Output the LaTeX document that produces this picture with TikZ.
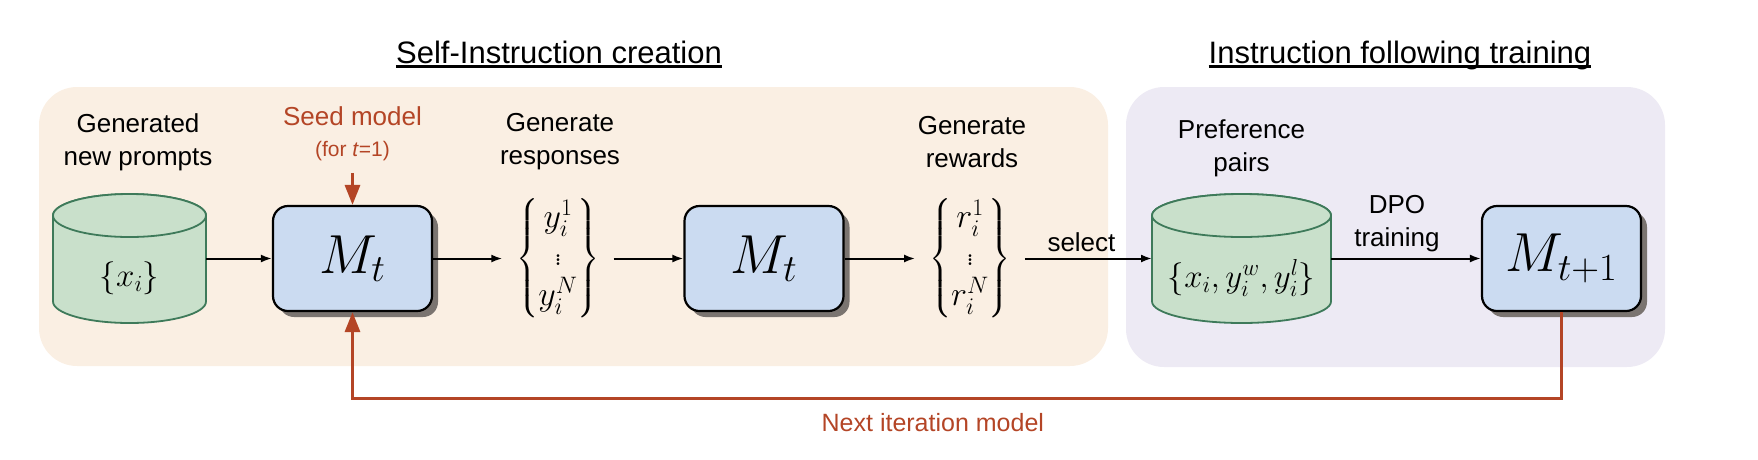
\documentclass[tikz,border=0pt]{standalone}
\usepackage{fix-cm}
\usepackage{amsmath}
\usepackage{fontspec}
\setsansfont{Liberation Sans}
\usetikzlibrary{arrows.meta,shadows}
\definecolor{tanbg}{HTML}{FAEFE3}
\definecolor{lilacbg}{HTML}{EDEAF4}
\definecolor{dbfill}{HTML}{C9E0CB}
\definecolor{dbline}{HTML}{3E7A5A}
\definecolor{modelfill}{HTML}{CBDBF1}
\definecolor{shadowgray}{HTML}{7A7470}
\definecolor{loopred}{HTML}{B44526}

\begin{document}
\begin{tikzpicture}[x=1pt, y=-1pt,
    flow/.style={-{Latex[length=11pt,width=8pt]}, line width=2pt},
    redflow/.style={-{Triangle[length=20pt,width=15pt]}, line width=3.2pt, draw=loopred},
    model/.style={draw=black, line width=2.2pt, fill=modelfill, rounded corners=15pt,
        minimum width=159pt, minimum height=105pt, inner sep=0pt,
        drop shadow={shadow xshift=6pt, shadow yshift=-6pt, fill=shadowgray, opacity=1},
        font=\fontsize{55}{64}\selectfont},
    caption/.style={font=\sffamily\fontsize{26}{33}\selectfont, align=center,
        inner sep=0pt, outer sep=0pt},
    heading/.style={font=\sffamily\fontsize{31}{37}\selectfont, inner sep=0pt, anchor=base},
    dbtext/.style={font=\fontsize{33}{40}\selectfont, inner sep=0pt, outer sep=0pt},
    stack/.style={font=\fontsize{34}{38}\selectfont\setlength\arraycolsep{13pt},
        inner sep=0pt, outer sep=0pt},
    dbcyl/.style={fill=dbfill, draw=dbline, line width=1.8pt}]
    \useasboundingbox (0,0) rectangle (1758,459);

    % Backgrounds
    \fill[tanbg, rounded corners=38pt] (39,87) rectangle (1108,366);
    \fill[lilacbg, rounded corners=38pt] (1126,87) rectangle (1665,367);

    % Headings
    \node[heading] (hself) at (559,63) {Self-Instruction creation};
    \draw[line width=3pt] ([yshift=-3.5pt]hself.base west) -- ([yshift=-3.5pt]hself.base east);
    \node[heading] (htrain) at (1400,63) {Instruction following training};
    \draw[line width=3pt] ([yshift=-3.5pt]htrain.base west) -- ([yshift=-3.5pt]htrain.base east);

    % Prompt store
    \filldraw[dbcyl] (53,215.5) -- (53,301.5)
        arc[start angle=180, end angle=0, x radius=76.5, y radius=21.5] -- (206,215.5)
        arc[start angle=0, end angle=-180, x radius=76.5, y radius=21.5] -- cycle;
    \draw[dbcyl] (129.5,215.5) ellipse[x radius=76.5, y radius=21.5];
    \node[dbtext, minimum width=153pt] (xs) at (129.5,278) {$\{x_i\}$};
    \node[caption] (gen) at (138,142) {Generated\\new prompts};

    % Preference store
    \filldraw[dbcyl] (1152,215.5) -- (1152,301.5)
        arc[start angle=180, end angle=0, x radius=89.5, y radius=21.5] -- (1331,215.5)
        arc[start angle=0, end angle=-180, x radius=89.5, y radius=21.5] -- cycle;
    \draw[dbcyl] (1241.5,215.5) ellipse[x radius=89.5, y radius=21.5];
    \node[dbtext, minimum width=179pt] (pairs) at (1241.5,278) {$\{x_i, y_i^w, y_i^l\}$};
    \node[caption] (pref) at (1241.5,148) {Preference\\pairs};

    % Models
    \node[model] (mt) at (352.5,258.5) {$M_t$};
    \node[model] (mtb) at (764,258.5) {$M_t$};
    \node[model] (mnext) at (1561.5,258.5) {$M_{t+1}$};

    % Responses and rewards
    \node[stack] (ys) at (558,258.5) {$\left\{\begin{matrix} y_i^1\\ \vdots\\ y_i^N\end{matrix}\right\}$};
    \node[caption] (resp) at (560,142) {Generate\\responses};
    \node[stack] (rs) at (970,258.5) {$\left\{\begin{matrix} r_i^1\\ \vdots\\ r_i^N\end{matrix}\right\}$};
    \node[caption] (rew) at (972,142) {Generate\\rewards};

    % Seed model
    \node[caption, text=loopred] (seed) at (352.5,116) {Seed model};
    \node[caption, text=loopred, font=\sffamily\fontsize{21}{25}\selectfont] (seedfor)
        at (352.5,151) {(for \textit{t}=1)};
    \draw[redflow, shorten <=12pt] (seedfor) -- (mt);

    % Main flow
    \draw[flow] (xs.east |- mt.west) -- (mt.west);
    \draw[flow, shorten >=14pt] (mt.east) -- (ys.west);
    \draw[flow, shorten <=14pt] (ys.east) -- (mtb.west);
    \draw[flow, shorten >=14pt] (mtb.east) -- (rs.west);
    \draw[flow, shorten <=14pt] (rs.east) -- (pairs.west |- rs.east)
        node[caption, midway, above=7pt] (sel) {select};
    \draw[flow] (pairs.east |- mnext.west) -- (mnext.west)
        node[caption, midway, above=7pt, xshift=-9pt] (dpo) {DPO\\training};

    % Feedback loop
    \draw[redflow] (mnext.south) -- ++(0,86) -| (mt.south)
        node[pos=0.26, below=15pt, caption, text=loopred,
             font=\sffamily\fontsize{25}{30}\selectfont] (nextlbl) {Next iteration model};
\end{tikzpicture}
\end{document}
